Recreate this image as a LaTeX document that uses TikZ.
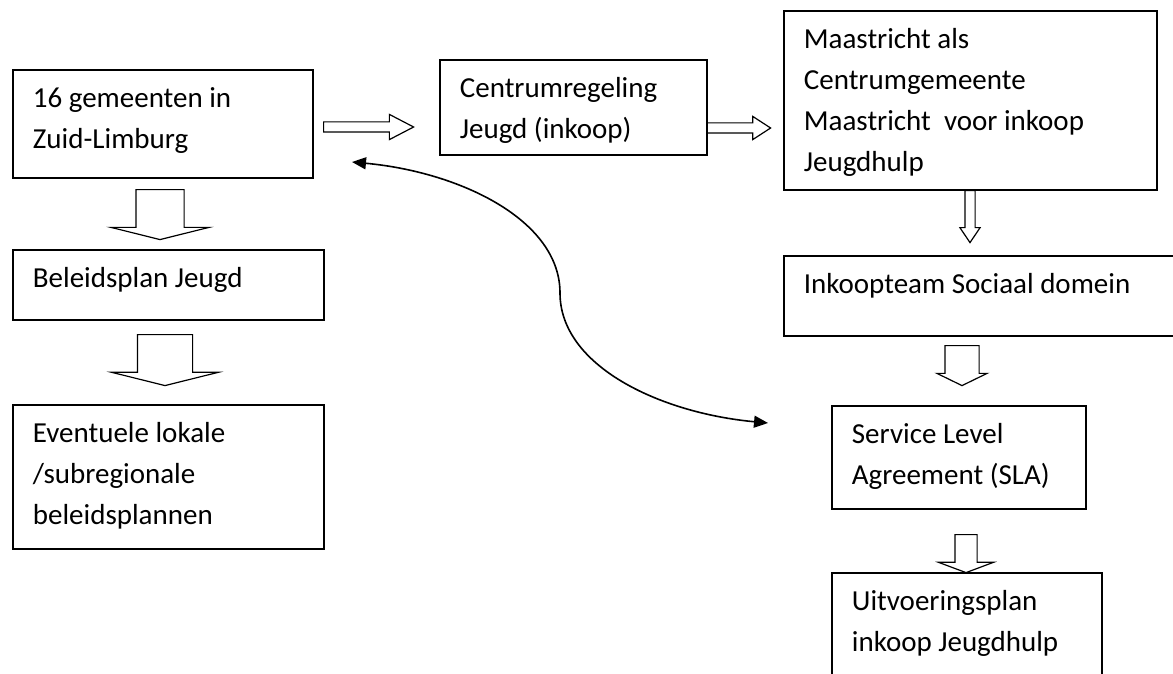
\documentclass[tikz,border=0pt]{standalone}
\usepackage{fontspec}
\setmainfont{Carlito}
\usetikzlibrary{shapes.arrows,arrows.meta}

\begin{document}
\begin{tikzpicture}[
x=1pt, y=-1pt,
font=\fontsize{29}{41}\selectfont,
vak/.style={draw=black, line width=1.8pt, anchor=north west, align=flush left,
    inner xsep=20pt, inner ysep=0pt, text height=38pt},
pijl/.style={single arrow, draw=black, line width=1.2pt, inner xsep=0pt,
    anchor=tail},
omlaag/.style={pijl, rotate=-90},
terug/.style={{Triangle[length=14pt,width=12pt]}-{Triangle[length=14pt,width=12pt]},
    line width=1.6pt}
]
\useasboundingbox (0,0) rectangle (1173,674);

% linker kolom
\node[vak, text width=260pt, text depth=70pt] (gemeenten) at (12,69)
    {16 gemeenten in\\Zuid-Limburg};
\node[vak, text width=271pt, text depth=32pt] (beleidsplan) at (12,249)
    {Beleidsplan Jeugd};
\node[vak, text width=271pt, text depth=106pt] (eventueel) at (12,404)
    {Eventuele lokale\\/subregionale\\beleidsplannen};

% midden en rechter kolom
\node[vak, text width=227pt, text depth=57pt] (centrumregeling) at (439,59)
    {Centrumregeling\\Jeugd (inkoop)};
\node[vak, text width=333pt, text depth=141pt] (maastricht) at (783,10)
    {Maastricht als\\Centrumgemeente\\Maastricht\ \ voor inkoop\\Jeugdhulp};
\node[vak, text width=360pt, text depth=42pt] (inkoopteam) at (783,255)
    {Inkoopteam Sociaal domein};
\node[vak, text width=214pt, text depth=65pt] (sla) at (831,405)
    {Service Level\\Agreement (SLA)};
\node[vak, text width=230pt, text depth=82pt] (uitvoering) at (831,572)
    {Uitvoeringsplan\\inkoop Jeugdhulp};

% blokpijlen (inner ysep = halve schachtbreedte)
\node[pijl, minimum height=90pt, minimum width=24pt, inner ysep=4.5pt,
    single arrow head extend=7.5pt, single arrow tip angle=55] (p1) at (323,127) {};
\node[pijl, minimum height=64pt, minimum width=22pt, inner ysep=4.5pt,
    single arrow head extend=6.5pt, single arrow tip angle=66] (p2) at (706,128) {};
\node[omlaag, minimum height=50pt, minimum width=97pt, inner ysep=23.5pt,
    single arrow head extend=25pt, single arrow tip angle=152] (p3) at (160,189) {};
\node[omlaag, minimum height=51pt, minimum width=106pt, inner ysep=27pt,
    single arrow head extend=26pt, single arrow tip angle=152] (p4) at (165,334) {};
\node[omlaag, minimum height=52pt, minimum width=19pt, inner ysep=4.5pt,
    single arrow head extend=5pt, single arrow tip angle=68] (p5) at (970,190) {};
\node[omlaag, minimum height=40pt, minimum width=49pt, inner ysep=16.5pt,
    single arrow head extend=8pt, single arrow tip angle=128] (p6) at (962,345) {};
\node[omlaag, minimum height=38pt, minimum width=54pt, inner ysep=10.5pt,
    single arrow head extend=16.5pt, single arrow tip angle=139] (p7) at (966,534) {};

% gebogen pijl
\coordinate (linkspunt) at (352,162);
\coordinate (rechtspunt) at (768,423);
\draw[terug] (linkspunt) .. controls (460,172) and (560,220) .. (560,293)
    .. controls (560,366) and (660,413) .. (rechtspunt);

\end{tikzpicture}
\end{document}
